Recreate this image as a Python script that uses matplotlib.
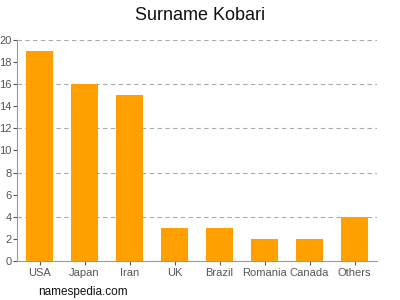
import matplotlib
matplotlib.use('Agg')
import matplotlib.pyplot as plt

# Chart data
countries = ['USA', 'Japan', 'Iran', 'UK', 'Brazil', 'Romania', 'Canada', 'Others']
counts = [19, 16, 15, 3, 3, 2, 2, 4]
yticks = list(range(0, 21, 2))

plt.rcParams['font.family'] = ['Liberation Sans', 'DejaVu Sans']

fig = plt.figure(figsize=(4, 3), dpi=100)
ax = fig.add_axes([0.0425, 0.13, 0.9, 0.7367])

# Dashed grid at every 4 units
for v in range(4, 21, 4):
    ax.axhline(v, color='#aaaaaa', linestyle=(0, (4, 3)), linewidth=0.8, zorder=0)

ax.bar(range(len(countries)), counts, width=0.62, color='#ff9f00', zorder=2)

ax.set_xlim(-0.5, len(countries) - 0.5)
ax.set_ylim(0, 20)
ax.set_yticks(yticks)
ax.set_xticks(range(len(countries)))
ax.set_xticklabels(countries)

ax.tick_params(axis='both', labelsize=8, colors='#555555', length=3, width=0.8)
ax.tick_params(axis='x', pad=2)
ax.tick_params(axis='y', pad=1)

for side in ['top', 'right']:
    ax.spines[side].set_visible(False)
for side in ['left', 'bottom']:
    ax.spines[side].set_color('#999999')
    ax.spines[side].set_linewidth(0.8)

fig.text(0.5, 0.95, 'Surname Kobari', ha='center', va='center', fontsize=13, color='#111111')
fig.text(0.095, 0.027, 'namespedia.com', ha='left', va='center', fontsize=8.5, color='#111111')

fig.savefig('out.png', dpi=100)
